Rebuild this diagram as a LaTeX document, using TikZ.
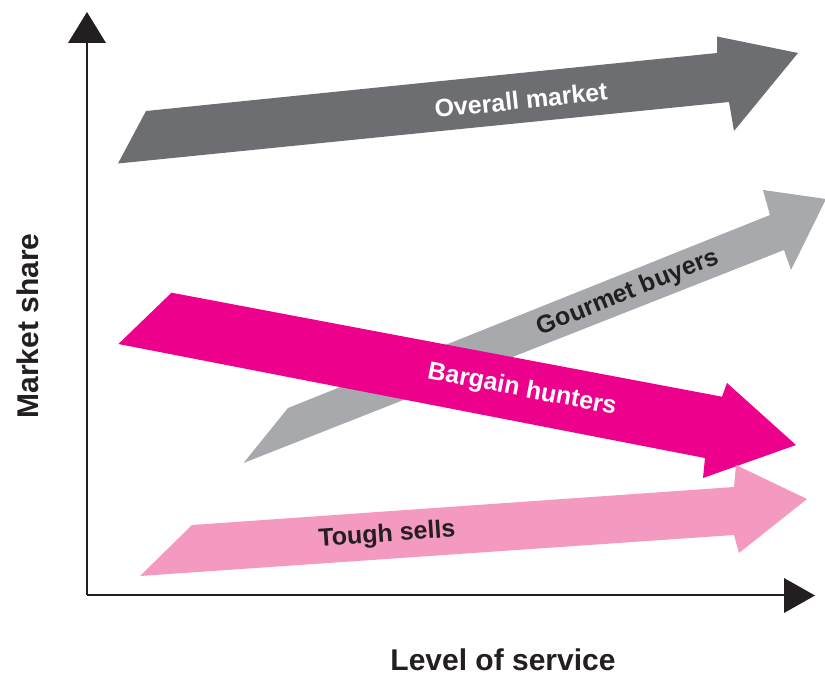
\documentclass[tikz,border=0pt]{standalone}
\usepackage{fontspec}
\setmainfont{Liberation Sans}
\definecolor{axisblack}{HTML}{231F20}
\definecolor{overallgray}{HTML}{6D6E71}
\definecolor{gourmetgray}{HTML}{A7A9AC}
\definecolor{bargainmag}{HTML}{EC008C}
\definecolor{toughpink}{HTML}{F49AC1}
\tikzset{
  axisline/.style={draw=axisblack, line width=2.4pt},
  axishead/.style={fill=axisblack, draw=none},
  axislabel/.style={font=\fontsize{30}{34}\selectfont\bfseries, text=axisblack, inner sep=0pt},
  arrowlabel/.style={font=\fontsize{25}{29}\selectfont\bfseries, inner sep=0pt},
}
\begin{document}
\begin{tikzpicture}[x=1pt, y=-1pt]
\useasboundingbox (0,0) rectangle (825,677);

% axes
\coordinate (O) at (87,595);
\coordinate (ytop) at (87,40);
\coordinate (xend) at (786,595);
\draw[axisline] (O) -- (ytop);
\draw[axisline] (O) -- (xend);
\fill[axishead] (68,43) -- (106,43) -- (87,12) -- cycle;
\fill[axishead] (784,578) -- (784,613) -- (815,595.5) -- cycle;

\node[axislabel, rotate=90] (ylabel) at (28,326) {Market share};
\node[axislabel] (xlabel) at (503,660) {Level of service};

% Gourmet buyers
\fill[gourmetgray] (243.5,463) -- (288,408) -- (770,215) -- (763,190) -- (826,199)
  -- (791,270) -- (784,250) -- cycle;
\node[arrowlabel, text=axisblack, rotate=22] (gourmet) at (628,293) {Gourmet buyers};

% Bargain hunters
\fill[bargainmag] (171.5,292.7) -- (722,396.7) -- (727,383) -- (796,445) -- (703,478)
  -- (705,458) -- (118.4,344) -- cycle;
\node[arrowlabel, text=white, rotate=-11] (bargain) at (522,390) {Bargain hunters};

% Tough sells
\fill[toughpink] (140,576) -- (192,525) -- (734,487) -- (736,465) -- (807,499)
  -- (739,553) -- (734,535) -- cycle;
\node[arrowlabel, text=axisblack, rotate=4] (tough) at (387,535) {Tough sells};

% Overall market
\fill[overallgray] (118,163.5) -- (146,111) -- (717,53) -- (717,36.5) -- (798,53)
  -- (734,131) -- (729,102) -- cycle;
\node[arrowlabel, text=white, rotate=6] (overall) at (521,100) {Overall market};
\end{tikzpicture}
\end{document}
